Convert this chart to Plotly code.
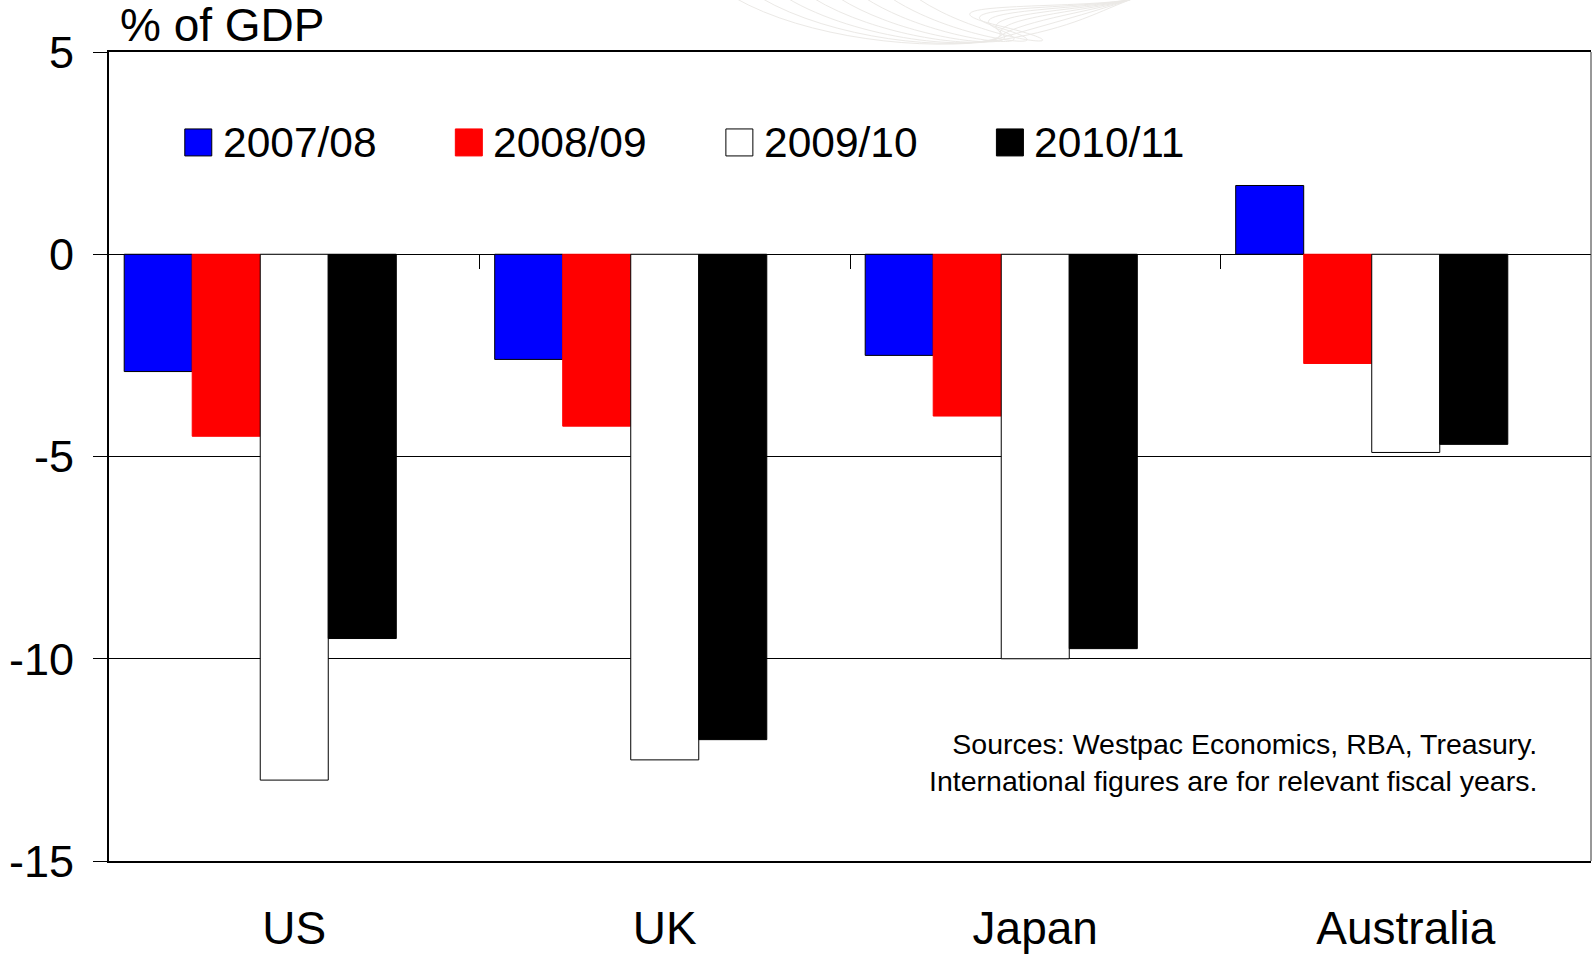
import plotly.graph_objects as go

countries = ["US", "UK", "Japan", "Australia"]
series_names = ["2007/08", "2008/09", "2009/10", "2010/11"]
v_0708 = [-2.9, -2.6, -2.5, 1.7]
v_0809 = [-4.5, -4.25, -4.0, -2.7]
v_0910 = [-13.0, -12.5, -10.0, -4.9]
v_1011 = [-9.5, -12.0, -9.75, -4.7]
y_ticks = [5, 0, -5, -10, -15]
boundary_ticks = [0.5, 1.5, 2.5]

series_values = [v_0708, v_0809, v_0910, v_1011]
fills = ["#0000FF", "#FF0000", "#FFFFFF", "#000000"]
outlines = ["#000000", "#FF0000", "#000000", "#000000"]

FONT = "Liberation Sans, Arial, sans-serif"
W, H = 1593, 957
L, R, T, B = 108.7, 2, 52, 95.5
pw = W - L - R
ph = H - T - B


def px(x):
    return (x - L) / pw


def py(y):
    return 1 - (y - T) / ph


slot = (1 - 0.082) / 5
start = -0.5 + 0.041

fig = go.Figure()
for i, (name, vals) in enumerate(zip(series_names, series_values)):
    fig.add_trace(go.Bar(
        x=countries, y=vals, name=name, showlegend=False,
        width=slot, offset=start + i * slot,
        marker=dict(color=fills[i], line=dict(color=outlines[i], width=1)),
    ))

fig.add_trace(go.Scatter(x=[None], y=[None], xaxis="x2", showlegend=False,
                         hoverinfo="skip"))

shapes = []
annotations = []

# faint decorative swirl at the top
for k in range(8):
    x0 = 735 + k * 26
    shapes.append(dict(
        type="path", xref="paper", yref="paper", layer="below",
        path=(f"M {px(x0)},{py(-2)} "
              f"C {px(x0 + 70)},{py(38 + k)} {px(x0 + 190)},{py(52)} "
              f"{px(1000)},{py(40 - k * 2)} "
              f"S {px(1100)},{py(10)} {px(1135)},{py(-2)}"),
        line=dict(color="#ebe9e6", width=1),
    ))

# legend (squares + text)
leg_left = 184.5
leg_step = 270.6
sq = 27
leg_cy = 142.5
for i, name in enumerate(series_names):
    x0 = leg_left + i * leg_step
    shapes.append(dict(
        type="rect", xref="paper", yref="paper",
        x0=px(x0), x1=px(x0 + sq), y0=py(leg_cy + sq / 2), y1=py(leg_cy - sq / 2),
        fillcolor=fills[i], line=dict(color=outlines[i], width=1),
    ))
    annotations.append(dict(
        text=name, xref="paper", yref="paper",
        x=px(x0 + sq + 9), y=py(leg_cy), xanchor="left", yanchor="middle",
        showarrow=False, font=dict(size=42.5, family=FONT, color="black"),
    ))

shapes.append(dict(type="line", xref="paper", yref="paper", x0=1, x1=1,
                   y0=0, y1=1, line=dict(color="#333333", width=1)))

annotations += [
    dict(text="% of GDP", xref="paper", yref="paper",
         x=px(120), y=py(25), borderpad=0, borderwidth=0,
         xanchor="left", yanchor="middle", showarrow=False,
         font=dict(size=46, family=FONT, color="black")),
    dict(text="Sources: Westpac Economics, RBA, Treasury.<br>"
              "International figures are for relevant fiscal years.",
         xref="paper", yref="paper",
         x=px(1539), y=py(763),
         xanchor="right", yanchor="middle", align="right",
         showarrow=False,
         font=dict(size=28.5, family=FONT, color="black")),
]

fig.update_layout(
    width=W, height=H,
    margin=dict(l=L, r=R, t=T, b=B, pad=0),
    paper_bgcolor="white", plot_bgcolor="white",
    font=dict(family=FONT, color="black", size=45),
    barmode="overlay",
    showlegend=False,
    xaxis=dict(
        type="category", categoryorder="array", categoryarray=countries,
        range=[-0.5, 3.5], showgrid=False, zeroline=False,
        showline=True, linecolor="black", linewidth=2, mirror=True,
        ticks="", tickfont=dict(size=46), ticklabelstandoff=26,
    ),
    xaxis2=dict(
        overlaying="x", anchor="free", position=0.75, side="bottom",
        type="linear", range=[-0.5, 3.5], tickmode="array",
        tickvals=boundary_ticks, ticks="outside", ticklen=14, tickwidth=1,
        tickcolor="black", showticklabels=False, showgrid=False,
        zeroline=False, showline=False,
    ),
    yaxis=dict(
        range=[-15, 5], tickmode="array", tickvals=y_ticks,
        ticktext=[str(t) for t in y_ticks],
        showgrid=True, gridcolor="black", gridwidth=1,
        zeroline=True, zerolinecolor="black", zerolinewidth=1,
        showline=True, linecolor="black", linewidth=2,
        ticks="outside", ticklen=14, tickwidth=1, tickcolor="black",
        tickfont=dict(size=45), ticklabelstandoff=10,
    ),
    shapes=shapes,
    annotations=annotations,
)

fig.write_html("out.html")
